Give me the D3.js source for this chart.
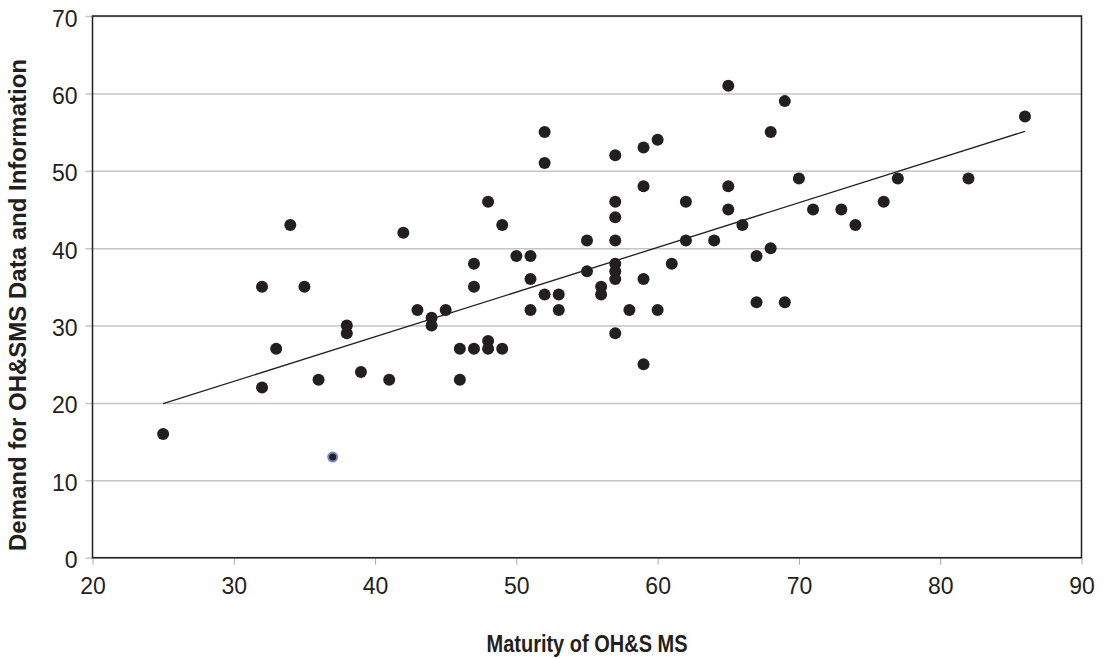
<!DOCTYPE html>
<html>
<head>
<meta charset="utf-8">
<script src="https://cdn.jsdelivr.net/npm/d3@7"></script>
<style>
  body { margin: 0; background: #fff; }
  text { font-family: "Liberation Sans", Arial, sans-serif; fill: #231f20; }
  .tick text { font-size: 23px; }
  .axis-label { font-size: 24px; font-weight: bold; }
</style>
</head>
<body>
<div id="chart"></div>
<script>
// Maturity of OH&S MS (x) and Demand for OH&SMS data (y)
const maturity = [25, 32, 32, 33, 34, 35, 36, 38, 38, 39, 41, 42, 43, 44, 44, 45,
  46, 46, 47, 47, 47, 48, 48, 48, 49, 49, 50, 51, 51, 51, 52, 52, 52, 53, 53,
  55, 55, 56, 56, 57, 57, 57, 57, 57, 57, 57, 57, 58, 59, 59, 59, 59, 60, 60,
  61, 62, 62, 64, 65, 65, 65, 66, 67, 67, 68, 68, 69, 69, 70, 71, 73, 74, 76,
  77, 82, 86];
const demand = [16, 22, 35, 27, 43, 35, 23, 30, 29, 24, 23, 42, 32, 31, 30, 32,
  27, 23, 38, 35, 27, 46, 28, 27, 43, 27, 39, 39, 36, 32, 55, 51, 34, 34, 32,
  41, 37, 35, 34, 52, 46, 44, 41, 38, 37, 36, 29, 32, 53, 48, 36, 25, 54, 32,
  38, 46, 41, 41, 61, 48, 45, 43, 39, 33, 55, 40, 59, 33, 49, 45, 45, 43, 46,
  49, 49, 57];

// the one highlighted observation
const highlight = { x: 37, y: 13 };

// fitted trend line end points
const trendX = [25, 86];
const trendY = [19.9, 55.1];

const xTicks = [20, 30, 40, 50, 60, 70, 80, 90];
const yTicks = [0, 10, 20, 30, 40, 50, 60, 70];

const margin = {top: 16, right: 23.5, bottom: 100.3, left: 92.5};
const width = 1105 - margin.left - margin.right;
const height = 658 - margin.top - margin.bottom;

const svg = d3.select("#chart")
    .append("svg")
    .attr("width", 1105)
    .attr("height", 658)
    .append("g")
    .attr("transform", `translate(${margin.left}, ${margin.top})`);

const x = d3.scaleLinear().domain([20, 90]).range([0, width]);
const y = d3.scaleLinear().domain([0, 70]).range([height, 0]);

// horizontal gridlines (they also form the y ticks)
const yAxis = svg.append("g")
    .call(d3.axisLeft(y).tickValues(yTicks).tickSize(-width).tickSizeOuter(0));
yAxis.select(".domain").remove();
yAxis.selectAll(".tick line")
    .attr("x1", -7)
    .attr("stroke", "#c4c4c4")
    .attr("stroke-width", 1.5);
yAxis.selectAll(".tick text")
    .attr("x", -15)
    .attr("y", 2)
    .attr("dy", "0.35em");

// x axis with short grey ticks
const xAxis = svg.append("g")
    .attr("transform", `translate(0, ${height})`)
    .call(d3.axisBottom(x).tickValues(xTicks).tickSize(7).tickPadding(13).tickSizeOuter(0));
xAxis.select(".domain").remove();
xAxis.selectAll(".tick line").attr("stroke", "#a8a8a8").attr("stroke-width", 1);

// plot frame
svg.append("rect")
    .attr("x", 0)
    .attr("y", 0)
    .attr("width", width)
    .attr("height", height)
    .attr("fill", "none")
    .attr("stroke", "#231f20")
    .attr("stroke-width", 1.5);

// trend line
svg.append("line")
    .attr("x1", x(trendX[0]))
    .attr("y1", y(trendY[0]))
    .attr("x2", x(trendX[1]))
    .attr("y2", y(trendY[1]))
    .attr("stroke", "#231f20")
    .attr("stroke-width", 1.3);

// points
svg.selectAll(".dot")
    .data(d3.zip(maturity, demand))
    .enter()
    .append("circle")
    .attr("class", "dot")
    .attr("cx", d => x(d[0]))
    .attr("cy", d => y(d[1]))
    .attr("r", 6)
    .attr("fill", "#231f20");

svg.append("circle")
    .attr("cx", x(highlight.x))
    .attr("cy", y(highlight.y))
    .attr("r", 4.5)
    .attr("fill", "#231f20")
    .attr("stroke", "#7d87c4")
    .attr("stroke-width", 2);

// axis labels (the x title is set narrower, as in the original)
svg.append("text")
    .attr("class", "axis-label")
    .attr("x", width / 2)
    .attr("y", height + 94)
    .attr("text-anchor", "middle")
    .attr("textLength", 201)
    .attr("lengthAdjust", "spacingAndGlyphs")
    .text("Maturity of OH&S MS");

svg.append("text")
    .attr("class", "axis-label")
    .attr("transform", "rotate(-90)")
    .attr("x", -289)
    .attr("y", -66.5)
    .attr("text-anchor", "middle")
    .text("Demand for OH&SMS Data and Information");
</script>
</body>
</html>
